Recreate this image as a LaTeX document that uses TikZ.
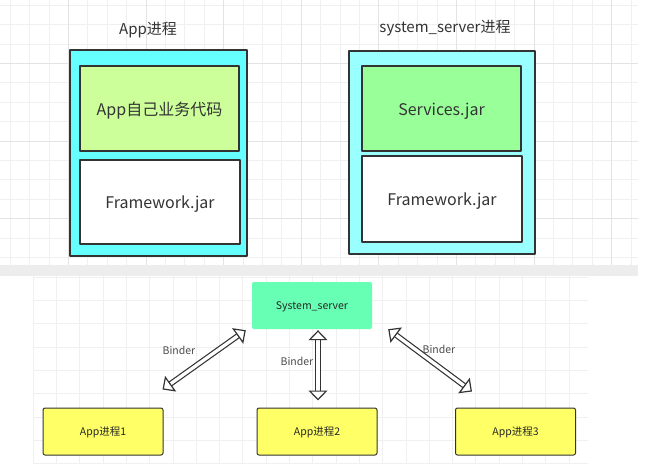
\documentclass[tikz,border=0pt]{standalone}
\usepackage{fontspec}
\setmainfont{Noto Sans CJK SC}
\usetikzlibrary{arrows.meta}
\definecolor{appcyan}{HTML}{66FFFF}
\definecolor{syscyan}{HTML}{99FFFF}
\definecolor{codegreen}{HTML}{CCFF99}
\definecolor{svcgreen}{HTML}{99FF99}
\definecolor{mintgreen}{HTML}{66FFB3}
\definecolor{procyellow}{HTML}{FFFF66}
\definecolor{edgegray}{HTML}{333333}

\begin{document}
\begin{tikzpicture}[x=1pt, y=-1pt, line join=round,
  gridminor/.style={line width=0.5pt, black!6},
  gridmajor/.style={line width=0.6pt, black!11},
  procbox/.style={draw=edgegray, line width=1.5pt, inner sep=0pt},
  layerbox/.style={draw=edgegray, line width=1.5pt, inner sep=0pt, text=black!80,
    font=\fontsize{16}{18}\selectfont, text height=13pt, text depth=0pt,
    minimum width=159, minimum height=85},
  titletext/.style={text=black!80, font=\fontsize{15}{18}\selectfont,
    text height=12pt, text depth=0pt},
  smalltext/.style={font=\fontsize{10.5}{12}\selectfont, text height=8.5pt, text depth=0pt},
  appnode/.style={smalltext, draw=edgegray, line width=1pt, fill=procyellow, rounded corners=2pt,
    minimum width=120, minimum height=47, text=black!85},
  bindertext/.style={smalltext, text=black!70},
  bindertip/.tip={Triangle[open, fill=white, length=10pt, width=19pt]},
  binderarrow/.style={draw=edgegray, line width=1.2pt, double=white, double distance=3.3pt,
    {bindertip}-{bindertip}}
]
  \useasboundingbox (0,0) rectangle (657,464);

  % ========================================================
  % 0. BACKGROUND GRIDS
  % ========================================================
  \foreach \i in {0,...,32} \draw[gridminor] ({10+19.4*\i},0) -- ({10+19.4*\i},265);
  \foreach \j in {0,...,13} \draw[gridminor] (0,{5+19.4*\j}) -- (638,{5+19.4*\j});
  \foreach \i in {3,7,...,31} \draw[gridmajor] ({10+19.4*\i},0) -- ({10+19.4*\i},265);
  \foreach \j in {3,7,11} \draw[gridmajor] (0,{5+19.4*\j}) -- (638,{5+19.4*\j});

  \foreach \i in {0,...,23} \draw[gridminor] ({33+23.3*\i},276) -- ({33+23.3*\i},464);
  \foreach \j in {0,...,8} \draw[gridminor] (33,{277+23.3*\j}) -- (588,{277+23.3*\j});

  % divider band between the two halves
  \fill[black!7] (0,265) rectangle (638,276);

  % ========================================================
  % 1. APP PROCESS (top left)
  % ========================================================
  \node[titletext] (apptitle) at (148,28) {App进程};
  \node[procbox, fill=appcyan, minimum width=177, minimum height=206] (appproc) at (158.5,153) {};
  \node[layerbox, fill=codegreen] (appcode) at (159.5,108.5) {App自己业务代码};
  \node[layerbox, fill=white, minimum width=160, minimum height=84] (appfw) at (160,202) {Framework.jar};

  % ========================================================
  % 2. SYSTEM_SERVER PROCESS (top right)
  % ========================================================
  \node[titletext] (systitle) at (445,26) {system\_server进程};
  \node[procbox, fill=syscyan, minimum width=186, minimum height=203] (sysproc) at (442,152.5) {};
  \node[layerbox, fill=svcgreen] (services) at (441.5,108.5) {Services.jar};
  \node[layerbox, fill=white, minimum width=160, minimum height=86] (sysfw) at (442,199) {Framework.jar};

  % ========================================================
  % 3. BINDER LINKS (bottom)
  % ========================================================
  \node[smalltext, fill=mintgreen, rounded corners=2pt, minimum width=120, minimum height=47,
    text=black!85] (sysserver) at (312,305.5) {System\_server};

  \node[appnode] (app1) at (103,431.5) {App进程1};
  \node[appnode] (app2) at (317,431.5) {App进程2};
  \node[appnode] (app3) at (515.5,431.5) {App进程3};

  \draw[binderarrow] ([shift={(-1,-18)}]app1.north east) -- ([shift={(-6,1)}]sysserver.south west);
  \draw[binderarrow] ([shift={(6,1)}]sysserver.south) -- ([shift={(1,-7)}]app2.north);
  \draw[binderarrow] ([shift={(16,0)}]sysserver.south east) -- ([shift={(17,-16)}]app3.north west);

  \node[bindertext] (binder1) at (179,350) {Binder};
  \node[bindertext] (binder2) at (297,361) {Binder};
  \node[bindertext] (binder3) at (439,349) {Binder};

\end{tikzpicture}
\end{document}
